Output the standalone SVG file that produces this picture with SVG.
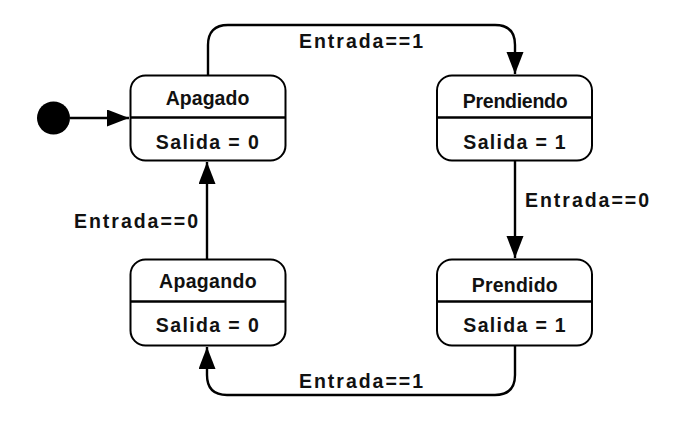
<svg xmlns="http://www.w3.org/2000/svg" width="697" height="424" viewBox="0 0 697 424">
<style>
.box{fill:none;stroke:#000;stroke-width:2}
.div{stroke:#000;stroke-width:2.6}
.t{font-family:"Liberation Sans",Arial,sans-serif;font-weight:bold;font-size:19.5px;fill:#111}
.edge{fill:none;stroke:#000;stroke-width:2.4}
</style>
<defs>
<marker id="ah" markerUnits="userSpaceOnUse" markerWidth="24" markerHeight="18" refX="22" refY="8.5" orient="auto">
<path d="M0,0 L22,8.5 L0,17 z" fill="#000"/>
</marker>
</defs>
<rect width="697" height="424" fill="#fff"/>
<g id="connectors">
<circle cx="53.5" cy="118" r="16.5" fill="#000"/>
<path class="edge" d="M70,118 H129" marker-end="url(#ah)"/>
<path class="edge" d="M208,75 V45 Q208,25 228,25 H495 Q515,25 515,45 V74" marker-end="url(#ah)"/>
<path class="edge" d="M515,161 V258" marker-end="url(#ah)"/>
<path class="edge" d="M207,259 V162" marker-end="url(#ah)"/>
<path class="edge" d="M515,346 V375 Q515,395 495,395 H227 Q207,395 207,375 V347" marker-end="url(#ah)"/>
<text class="t" x="299" y="47.7" textLength="124" lengthAdjust="spacing">Entrada==1</text>
<text class="t" x="525" y="206.7" textLength="124" lengthAdjust="spacing">Entrada==0</text>
<text class="t" x="74" y="227.7" textLength="124" lengthAdjust="spacing">Entrada==0</text>
<text class="t" x="299" y="387.7" textLength="124" lengthAdjust="spacing">Entrada==1</text>
</g>
<g id="apagado">
<rect class="box" x="130.5" y="75.5" width="155" height="85" rx="15"/>
<line class="div" x1="130.5" y1="117.5" x2="285.5" y2="117.5"/>
<text class="t" x="165.7" y="104.5" textLength="83.6" lengthAdjust="spacing">Apagado</text>
<text class="t" x="155.8" y="148.5" textLength="103" lengthAdjust="spacing">Salida = 0</text>
</g>
<g id="prendiendo">
<rect class="box" x="437" y="75.5" width="155" height="85" rx="15"/>
<line class="div" x1="437" y1="117.5" x2="592" y2="117.5"/>
<text class="t" x="462.7" y="107.7" textLength="105" lengthAdjust="spacing">Prendiendo</text>
<text class="t" x="463.3" y="148.5" textLength="102.4" lengthAdjust="spacing">Salida = 1</text>
</g>
<g id="apagando">
<rect class="box" x="130.5" y="259.5" width="155" height="86" rx="15"/>
<line class="div" x1="130.5" y1="301.5" x2="285.5" y2="301.5"/>
<text class="t" x="159" y="288.3" textLength="97.7" lengthAdjust="spacing">Apagando</text>
<text class="t" x="155.8" y="331.7" textLength="103" lengthAdjust="spacing">Salida = 0</text>
</g>
<g id="prendido">
<rect class="box" x="437" y="259.5" width="155" height="86" rx="15"/>
<line class="div" x1="437" y1="301.5" x2="592" y2="301.5"/>
<text class="t" x="471.7" y="291.7" textLength="86" lengthAdjust="spacing">Prendido</text>
<text class="t" x="463.3" y="331.7" textLength="102.4" lengthAdjust="spacing">Salida = 1</text>
</g>
</svg>
